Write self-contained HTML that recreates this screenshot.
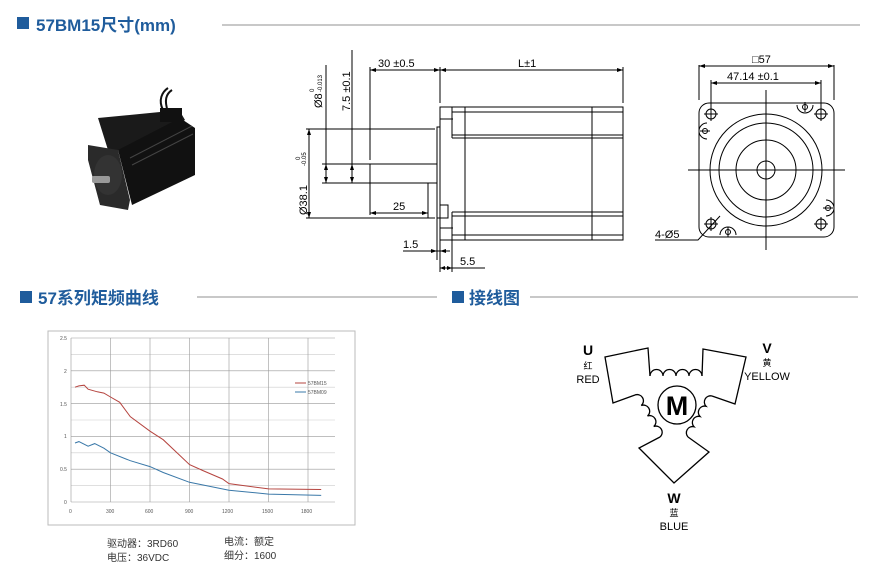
<!DOCTYPE html>
<html><head><meta charset="utf-8"><style>
html,body{margin:0;padding:0;background:#fff;}
svg{display:block;font-family:"Liberation Sans","Noto Sans CJK SC",sans-serif;}
.t{font-family:"Liberation Sans","Noto Sans CJK SC",sans-serif;font-weight:bold;fill:#1f5c9c;font-size:17px;}
.d{font-family:"Liberation Sans","Noto Sans CJK SC",sans-serif;font-size:11px;fill:#000;}
</style></head><body>
<svg width="879" height="579" viewBox="0 0 879 579" xmlns="http://www.w3.org/2000/svg">
<!-- headers -->
<rect x="17" y="17" width="12" height="12" fill="#1f5c9c"/>
<text class="t" x="36" y="31">57BM15尺寸(mm)</text>
<line x1="222" y1="25" x2="860" y2="25" stroke="#c8c8c8" stroke-width="2"/>
<rect x="20" y="291" width="12" height="12" fill="#1f5c9c"/>
<text class="t" x="38" y="304">57系列矩频曲线</text>
<line x1="197" y1="297" x2="437" y2="297" stroke="#c8c8c8" stroke-width="2"/>
<rect x="452" y="291" width="12" height="12" fill="#1f5c9c"/>
<text class="t" x="469" y="304">接线图</text>
<line x1="530" y1="297" x2="858" y2="297" stroke="#c8c8c8" stroke-width="2"/>

<!-- photo of motor -->
<g>
<polygon points="98,118 160,112 178,108 185,120 130,150 108,150" fill="#1a1a1a"/>
<polygon points="118,150 180,118 195,128 195,175 132,205" fill="#111"/>
<polygon points="88,145 118,150 130,200 128,210 100,205 88,160" fill="#2a2a2a"/>
<ellipse cx="108" cy="175" rx="14" ry="20" fill="#333"/>
<rect x="92" y="176" width="18" height="7" fill="#999" rx="2"/>
<path d="M163,110 C158,100 162,92 168,88" stroke="#111" stroke-width="2" fill="none"/>
<path d="M168,112 C164,100 166,94 172,90" stroke="#111" stroke-width="2" fill="none"/>
<rect x="160" y="108" width="22" height="14" fill="#111"/>
<line x1="130" y1="158" x2="192" y2="126" stroke="#444" stroke-width="1"/>
<line x1="132" y1="165" x2="193" y2="134" stroke="#444" stroke-width="1"/>
</g>

<!-- side view -->
<g stroke="#000" stroke-width="1" fill="none">
<rect x="440" y="107" width="183" height="133"/>
<line x1="452" y1="112" x2="623" y2="112"/><line x1="452" y1="135" x2="623" y2="135"/><line x1="452" y1="138" x2="623" y2="138"/>
<line x1="452" y1="212" x2="623" y2="212"/><line x1="452" y1="216" x2="623" y2="216"/><line x1="452" y1="235" x2="623" y2="235"/>
<line x1="452" y1="107" x2="452" y2="138"/><line x1="452" y1="212" x2="452" y2="240"/>
<line x1="465" y1="107" x2="465" y2="240"/><line x1="592" y1="107" x2="592" y2="240"/>
<line x1="440" y1="119" x2="453" y2="119"/><line x1="440" y1="228" x2="453" y2="228"/>
<rect x="437" y="127" width="3" height="91"/>
<rect x="440" y="205" width="8" height="13"/>
<line x1="370" y1="164" x2="437" y2="164"/><line x1="370" y1="183" x2="437" y2="183"/>
<line x1="370" y1="67" x2="370" y2="160"/><line x1="370" y1="164" x2="370" y2="215"/>
<line x1="440" y1="67" x2="440" y2="103"/><line x1="623" y1="67" x2="623" y2="103"/>
<line x1="370" y1="70" x2="623" y2="70"/>
<line x1="306" y1="129" x2="435" y2="129"/><line x1="306" y1="218" x2="435" y2="218"/>
<line x1="309" y1="129" x2="309" y2="218"/>
<line x1="326" y1="65" x2="326" y2="183"/><line x1="322" y1="164" x2="370" y2="164"/><line x1="322" y1="183" x2="370" y2="183"/>
<line x1="352" y1="50" x2="352" y2="183"/>
<line x1="370" y1="213" x2="428" y2="213"/><line x1="428" y1="183" x2="428" y2="218"/>
<line x1="437" y1="218" x2="437" y2="260"/><line x1="440" y1="240" x2="440" y2="272"/>
<line x1="403" y1="251" x2="450" y2="251"/>
<line x1="452" y1="240" x2="452" y2="272"/>
<line x1="440" y1="268" x2="485" y2="268"/>
</g>
<g fill="#000">
<polygon points="370,70 376,68 376,72"/><polygon points="440,70 434,68 434,72"/><polygon points="440,70 446,68 446,72"/><polygon points="623,70 617,68 617,72"/>
<polygon points="309,129 307,135 311,135"/><polygon points="309,218 307,212 311,212"/>
<polygon points="326,164 324,170 328,170"/><polygon points="326,183 324,177 328,177"/>
<polygon points="352,164 350,170 354,170"/><polygon points="352,183 350,177 354,177"/>
<polygon points="370,213 376,211 376,215"/><polygon points="428,213 422,211 422,215"/>
<polygon points="437,251 431,249 431,253"/><polygon points="440,251 446,249 446,253"/>
<polygon points="440,268 445,266 445,270"/><polygon points="452,268 447,266 447,270"/>
</g>
<text class="d" x="378" y="67">30 ±0.5</text>
<text class="d" x="518" y="67">L±1</text>
<text class="d" x="393" y="210">25</text>
<text class="d" x="403" y="248">1.5</text>
<text class="d" x="460" y="265">5.5</text>
<text class="d" transform="translate(350,111) rotate(-90)">7.5 ±0.1</text>
<text class="d" transform="translate(322,108) rotate(-90)">Ø8</text>
<text style="font-size:6px" transform="translate(314,92) rotate(-90)">0</text>
<text style="font-size:6px" transform="translate(322,92) rotate(-90)">-0.013</text>
<text class="d" transform="translate(307,215) rotate(-90)">Ø38.1</text>
<text style="font-size:6px" transform="translate(300,160) rotate(-90)">0</text>
<text style="font-size:6px" transform="translate(306,166) rotate(-90)">-0.05</text>

<!-- front view -->
<g stroke="#000" stroke-width="1" fill="none">
<rect x="699" y="103" width="135" height="134" rx="10"/>
<circle cx="766" cy="170" r="56"/><circle cx="766" cy="170" r="47"/><circle cx="766" cy="170" r="30"/><circle cx="766" cy="170" r="9"/>
<line x1="688" y1="170" x2="845" y2="170"/><line x1="766" y1="90" x2="766" y2="250"/>
<circle cx="711" cy="114" r="5"/><circle cx="821" cy="114" r="5"/><circle cx="711" cy="224" r="5"/><circle cx="821" cy="224" r="5"/>
<path d="M704,114h14M711,107v14M814,114h14M821,107v14M704,224h14M711,217v14M814,224h14M821,217v14"/>
<circle cx="705" cy="131" r="2.5"/><path d="M707,123 a8,8 0 0 0 0,16 M700,131h10"/>
<circle cx="805" cy="107" r="2.5"/><path d="M797,105 a8,8 0 0 0 16,0 M805,102v10"/>
<circle cx="828" cy="208" r="2.5"/><path d="M826,200 a8,8 0 0 1 0,16 M823,208h10"/>
<circle cx="728" cy="232" r="2.5"/><path d="M720,235 a8,8 0 0 1 16,0 M728,227v10"/>
<line x1="699" y1="65" x2="699" y2="100"/><line x1="834" y1="65" x2="834" y2="100"/>
<line x1="699" y1="66" x2="834" y2="66"/>
<line x1="711" y1="80" x2="711" y2="108"/><line x1="821" y1="80" x2="821" y2="108"/>
<line x1="711" y1="83" x2="821" y2="83"/>
<path d="M655,240 H698 L720,216"/>
</g>
<g fill="#000">
<polygon points="699,66 705,64 705,68"/><polygon points="834,66 828,64 828,68"/>
<polygon points="711,83 717,81 717,85"/><polygon points="821,83 815,81 815,85"/>
</g>
<text class="d" x="752" y="63">□57</text>
<text class="d" x="727" y="80">47.14 ±0.1</text>
<text class="d" x="655" y="238">4-Ø5</text>

<!-- chart -->
<rect x="48" y="331" width="307" height="194" fill="#fff" stroke="#bbb"/>
<g stroke="#999" stroke-width="0.6">
<line x1="71" y1="485.6" x2="335" y2="485.6" stroke="#ccc"/><line x1="71" y1="452.8" x2="335" y2="452.8" stroke="#ccc"/><line x1="71" y1="420" x2="335" y2="420" stroke="#ccc"/><line x1="71" y1="387.2" x2="335" y2="387.2" stroke="#ccc"/><line x1="71" y1="354.4" x2="335" y2="354.4" stroke="#ccc"/>
<line x1="71" y1="502" x2="335" y2="502"/><line x1="71" y1="469.2" x2="335" y2="469.2"/><line x1="71" y1="436.4" x2="335" y2="436.4"/><line x1="71" y1="403.6" x2="335" y2="403.6"/><line x1="71" y1="370.8" x2="335" y2="370.8"/><line x1="71" y1="338" x2="335" y2="338"/>
<line x1="71" y1="338" x2="71" y2="502"/><line x1="110.5" y1="338" x2="110.5" y2="502"/><line x1="150" y1="338" x2="150" y2="502"/><line x1="189.5" y1="338" x2="189.5" y2="502"/><line x1="229" y1="338" x2="229" y2="502"/><line x1="268.5" y1="338" x2="268.5" y2="502"/><line x1="308" y1="338" x2="308" y2="502"/>
</g>
<polyline fill="none" stroke="#b5443f" stroke-width="1" points="75,387.2 78.9,385.9 84.2,385.2 88.1,389.2 97.3,391.8 103.9,393.1 110.5,397 119.7,402.3 130.3,416.7 150,431.2 163.2,439.7 189.5,464.6 202.7,470.5 222.5,479 229,483.6 268.6,488.9 321.2,489.5"/>
<polyline fill="none" stroke="#3a78a8" stroke-width="1" points="75,443 78.9,441.6 88.1,446.2 94.7,443.6 103.9,448.2 110.5,452.8 130.3,460.7 150,466.6 163.2,472.5 189.5,482.3 229,490.2 268.6,494.1 321.2,495.4"/>
<line x1="295" y1="383" x2="306" y2="383" stroke="#b5443f"/><line x1="295" y1="392" x2="306" y2="392" stroke="#3a78a8"/>
<g font-size="5" fill="#555">
<text x="308" y="385">57BM15</text><text x="308" y="394">57BM09</text>
<text x="60" y="340">2.5</text><text x="64" y="373">2</text><text x="60" y="406">1.5</text><text x="64" y="438">1</text><text x="60" y="471">0.5</text><text x="64" y="504">0</text>
<text x="69" y="513">0</text><text x="106" y="513">300</text><text x="145" y="513">600</text><text x="185" y="513">900</text><text x="222" y="513">1200</text><text x="262" y="513">1500</text><text x="301" y="513">1800</text>
</g>
<g font-size="10" fill="#333">
<text x="107" y="547">驱动器：3RD60</text><text x="107" y="561">电压：36VDC</text>
<text x="224" y="545">电流：额定</text><text x="224" y="559">细分：1600</text>
</g>

<!-- wiring -->
<g stroke="#000" stroke-width="1.3" fill="none">
<path d="M650,376 L648,348 L605,357 L613,403 L635,395"/>
<path d="M660,437 L639,448 L674,483 L709,452 L688,437"/>
<path d="M712,396 L735,404 L746,357 L703,349 L702,376"/>
<path d="M650,376 a6.5,6.5 0 0 1 13,0 a6.5,6.5 0 0 1 13,0 a6.5,6.5 0 0 1 13,0 a6.5,6.5 0 0 1 13,0"/>
<path d="M635,395 a6.2,6.2 0 0 1 6.25,10.5 a6.2,6.2 0 0 1 6.25,10.5 a6.2,6.2 0 0 1 6.25,10.5 a6.2,6.2 0 0 1 6.25,10.5"/>
<path d="M712,396 a6.2,6.2 0 0 0 -6,10.25 a6.2,6.2 0 0 0 -6,10.25 a6.2,6.2 0 0 0 -6,10.25 a6.2,6.2 0 0 0 -6,10.25"/>
<circle cx="677" cy="405" r="19"/>
</g>
<text x="677" y="415" text-anchor="middle" font-size="27" font-weight="bold">M</text>
<g text-anchor="middle" fill="#000">
<text x="588" y="355" font-size="14" font-weight="bold">U</text><text x="588" y="369" font-size="9">红</text><text x="588" y="383" font-size="11">RED</text>
<text x="767" y="353" font-size="14" font-weight="bold">V</text><text x="767" y="366" font-size="9">黄</text><text x="767" y="380" font-size="11">YELLOW</text>
<text x="674" y="503" font-size="14" font-weight="bold">W</text><text x="674" y="516" font-size="9">蓝</text><text x="674" y="530" font-size="11">BLUE</text>
</g>
</svg>
</body></html>
